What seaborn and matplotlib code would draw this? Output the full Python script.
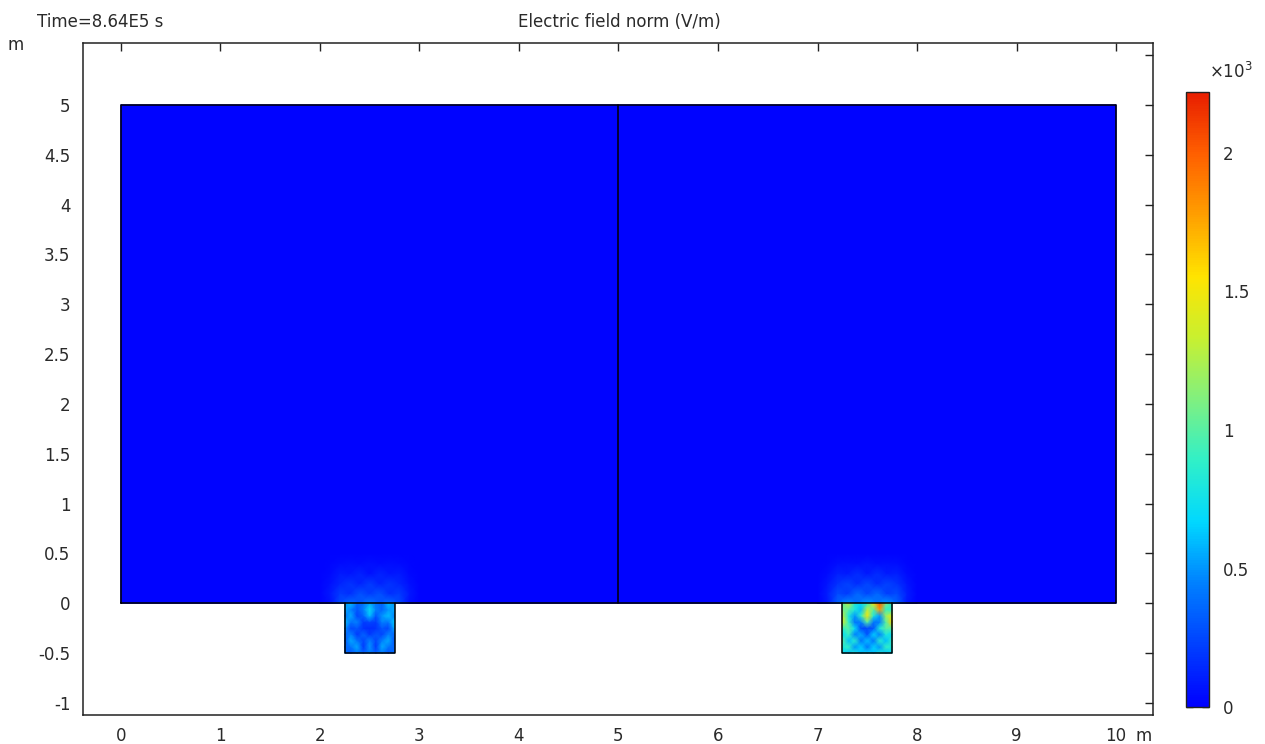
import numpy as np
import matplotlib
matplotlib.use("Agg")
import matplotlib.pyplot as plt
import seaborn as sns

# ---- geometry (m) ----
domain_x = [0.0, 5.0, 10.0]
domain_y = [0.0, 5.0]
left_sq_x = [2.25, 2.75]
right_sq_x = [7.25, 7.75]
sq_y = [-0.5, 0.0]
halo_margin = 0.25
halo_height = 0.5

# ---- electric field norm (V/m) ----
base_field = 12.0

# inclusion fields, rows from top (y=0) down to bottom (y=-0.5), columns left to right
left_square = [
    [500, 600, 350, 400, 550, 400, 350, 600, 500],
    [550, 450, 300, 450, 700, 450, 350, 500, 550],
    [400, 550, 250, 350, 600, 300, 500, 600, 450],
    [600, 400, 450, 200, 250, 200, 450, 400, 650],
    [500, 250, 300, 180, 150, 180, 300, 250, 550],
    [350, 450, 200, 350, 200, 300, 250, 450, 350],
    [300, 550, 400, 250, 450, 250, 450, 550, 300],
    [350, 400, 550, 200, 500, 200, 550, 400, 350],
    [400, 300, 400, 350, 400, 350, 400, 300, 400],
]
right_square = [
    [1000, 1300, 800, 700, 900, 1500, 2000, 1100, 800],
    [1100, 1000, 800, 600, 1300, 1000, 1800, 900, 900],
    [1300, 800, 500, 900, 1500, 800, 500, 1200, 1400],
    [1400, 900, 400, 450, 1000, 400, 450, 1000, 1600],
    [900, 1000, 700, 250, 250, 300, 800, 1000, 1000],
    [700, 900, 450, 550, 300, 650, 450, 800, 700],
    [1000, 600, 850, 400, 600, 400, 850, 600, 900],
    [800, 900, 500, 650, 400, 650, 500, 900, 800],
    [700, 600, 800, 600, 700, 600, 800, 600, 700],
]

# field in the soil just above each inclusion, rows from y=0 up to y=0.5
left_halo = [
    [12, 60, 250, 380, 300, 420, 300, 380, 250, 60, 12],
    [12, 80, 200, 160, 280, 200, 280, 160, 200, 80, 12],
    [12, 60, 130, 180, 120, 200, 120, 180, 130, 60, 12],
    [12, 30, 90, 70, 120, 60, 120, 70, 90, 30, 12],
    [12, 20, 40, 50, 40, 60, 40, 50, 40, 20, 12],
    [12, 12, 12, 12, 12, 12, 12, 12, 12, 12, 12],
]
right_halo = [
    [12, 80, 330, 480, 380, 520, 400, 500, 330, 80, 12],
    [12, 100, 260, 200, 360, 250, 360, 210, 260, 100, 12],
    [12, 70, 170, 230, 150, 250, 150, 230, 170, 70, 12],
    [12, 40, 110, 90, 150, 80, 150, 90, 110, 40, 12],
    [12, 20, 50, 60, 50, 70, 50, 60, 50, 20, 12],
    [12, 12, 12, 12, 12, 12, 12, 12, 12, 12, 12],
]

field_max = 2220.0
cbar_ticks = [0, 500, 1000, 1500, 2000]
cbar_labels = ["0", "0.5", "1", "1.5", "2"]
x_ticks = list(range(0, 11))
y_ticks = [-1, -0.5, 0, 0.5, 1, 1.5, 2, 2.5, 3, 3.5, 4, 4.5, 5, 5.5]
y_labels = ["-1", "-0.5", "0", "0.5", "1", "1.5", "2", "2.5", "3", "3.5", "4", "4.5", "5", ""]

# ---- style ----
sns.set_theme(style="white")
plt.rcParams["font.family"] = ["DejaVu Sans"]
plt.rcParams["axes.unicode_minus"] = False
text_color = "#2a2a2a"

rainbow = sns.blend_palette(
    ["#0000ff", "#0040ff", "#0080ff", "#00d8ff", "#30f0c8", "#80f080",
     "#c8f030", "#ffe400", "#ffa000", "#ff6000", "#e81e00"],
    as_cmap=True,
)
norm = matplotlib.colors.Normalize(vmin=0, vmax=field_max)

fig = plt.figure(figsize=(12.65, 7.44), dpi=100)
ax = fig.add_axes([0.0656, 0.039, 0.8458, 0.9032])


def field_patch(xs, ys, values, z):
    gx, gy = np.meshgrid(xs, ys)
    return ax.pcolormesh(gx, gy, np.asarray(values, dtype=float), shading="gouraud",
                         cmap=rainbow, norm=norm, zorder=z)


# soil domain
field_patch(np.array([domain_x[0], domain_x[-1]]), np.array(domain_y),
            np.full((2, 2), base_field), 1)

# field concentration above the inclusions
for sx, halo in ((left_sq_x, left_halo), (right_sq_x, right_halo)):
    h = np.asarray(halo)
    xs = np.linspace(sx[0] - halo_margin, sx[1] + halo_margin, h.shape[1])
    ys = np.linspace(0.0, halo_height, h.shape[0])
    field_patch(xs, ys, h, 2)

# inclusions
for sx, sq in ((left_sq_x, left_square), (right_sq_x, right_square)):
    s = np.flipud(np.asarray(sq))
    xs = np.linspace(sx[0], sx[1], s.shape[1])
    ys = np.linspace(sq_y[0], sq_y[1], s.shape[0])
    field_patch(xs, ys, s, 3)

# boundaries
edge_kw = dict(color="black", lw=1.1, zorder=5)
ax.plot([domain_x[0], domain_x[-1], domain_x[-1], domain_x[0], domain_x[0]],
        [domain_y[0], domain_y[0], domain_y[1], domain_y[1], domain_y[0]], **edge_kw)
ax.plot([domain_x[1], domain_x[1]], domain_y, **edge_kw)
for sx in (left_sq_x, right_sq_x):
    ax.plot([sx[0], sx[0], sx[1], sx[1]], [sq_y[1], sq_y[0], sq_y[0], sq_y[1]], **edge_kw)

ax.set_xlim(-0.38, 10.37)
ax.set_ylim(-1.12, 5.62)
ax.set_xticks(x_ticks)
ax.set_xticklabels([str(t) for t in x_ticks])
ax.set_yticks(y_ticks)
ax.set_yticklabels(y_labels)
ax.tick_params(direction="in", length=6, width=1.0, color="#222222",
               top=True, right=True, labelsize=12, labelcolor=text_color, pad=9)
for sp in ax.spines.values():
    sp.set_color("#222222")
    sp.set_linewidth(1.1)
ax.grid(False)
ax.set_facecolor("white")

# texts
fig.text(0.490, 0.970, "Electric field norm (V/m)", ha="center", va="center",
         fontsize=12, color=text_color)
fig.text(0.029, 0.970, "Time=8.64E5 s", ha="left", va="center", fontsize=12, color=text_color)
fig.text(0.012, 0.939, "m", ha="center", va="center", fontsize=12, color=text_color)
fig.text(0.904, 0.011, "m", ha="center", va="center", fontsize=12, color=text_color)

# colorbar
cax = fig.add_axes([0.9375, 0.0497, 0.0182, 0.8266])
cb = fig.colorbar(matplotlib.cm.ScalarMappable(norm=norm, cmap=rainbow), cax=cax)
cb.set_ticks(cbar_ticks)
cb.set_ticklabels(cbar_labels)
cax.tick_params(direction="in", left=True, right=True, length=5, width=1.0,
                color="#222222", labelsize=12, labelcolor=text_color, pad=10)
cb.outline.set_edgecolor("#222222")
cb.outline.set_linewidth(1.0)
fig.text(0.956, 0.903, r"$\times10^3$", ha="left", va="center", fontsize=12, color=text_color)

fig.savefig("out.png", dpi=100, facecolor="white")
